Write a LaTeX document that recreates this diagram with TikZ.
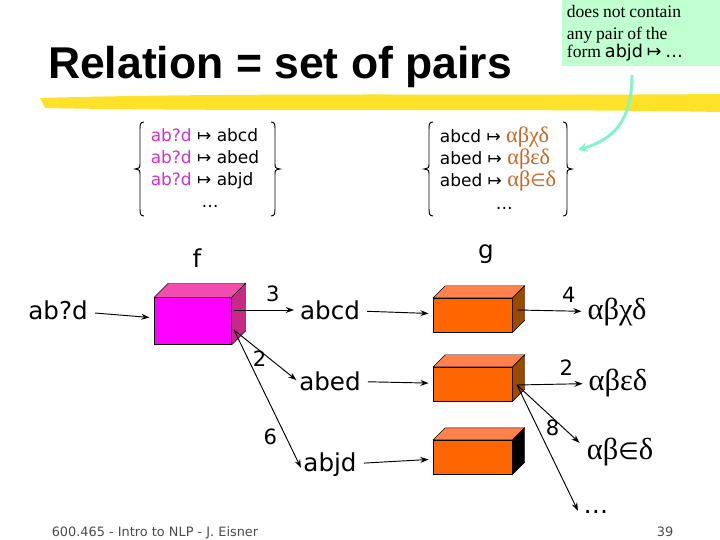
\documentclass[tikz,border=0pt]{standalone}
\usepackage{fontspec}
\setmainfont{DejaVu Sans}
\newfontfamily\titlefont{Liberation Sans}
\newfontfamily\greekfont{Liberation Serif}
\usetikzlibrary{positioning,calc,arrows.meta}
\definecolor{magtext}{HTML}{CC33CC}
\definecolor{orgtext}{HTML}{CC6622}
\definecolor{notegreen}{HTML}{BFFFD0}
\definecolor{notearrow}{HTML}{7FF5C8}
\newcommand\setgreekfont{\greekfont\fontsize{19}{19}\selectfont\color{orgtext}}
\newcommand\boxtop[4]{% node, depth, top colour, side colour
  \fill[#3,draw=black] (#1.north west) -- ++(#2,-#2) -- ($(#1.north east)+(#2,-#2)$) -- (#1.north east) -- cycle;
  \fill[#4,draw=black] (#1.north east) -- ++(#2,-#2) -- ($(#1.south east)+(#2,-#2)$) -- (#1.south east) -- cycle;}
% brace: x of tip, top y, bottom y, direction (1 left, -1 right)
\newcommand\setbrace[4]{%
  \draw[thick] ({#1+#4*9},#2) .. controls ({#1+#4*5},#2) and ({#1+#4*5},{#2+3}) .. ({#1+#4*5},{#2+8})
    -- ({#1+#4*5},{(#2+#3)/2-6}) .. controls ({#1+#4*5},{(#2+#3)/2-1}) .. (#1,{(#2+#3)/2})
    .. controls ({#1+#4*5},{(#2+#3)/2+1}) .. ({#1+#4*5},{(#2+#3)/2+6})
    -- ({#1+#4*5},{#3-8}) .. controls ({#1+#4*5},{#3-3}) and ({#1+#4*5},#3) .. ({#1+#4*9},#3);}
\begin{document}
\begin{tikzpicture}[
  x=0.03cm, y=-0.03cm,
  every node/.style={inner sep=1pt},
  word/.style={font=\fontsize{21}{22}\selectfont},
  greek/.style={font=\greekfont\fontsize{26}{28}\selectfont},
  weight/.style={font=\fontsize{18}{20}\selectfont},
  setrow/.style={font=\fontsize{14.5}{19}\selectfont},
  cubefront/.style={draw=black, minimum width=77*0.03cm, minimum height=47*0.03cm},
  orangebox/.style={draw=black, fill={rgb,255:red,255;green,102;blue,0}, minimum width=79*0.03cm, minimum height=34*0.03cm},
  flow/.style={-{Stealth[length=7pt,width=5pt]}, thick, shorten >=4pt, shorten <=5pt}
]
  \useasboundingbox (0,0) rectangle (720,540);
  % title and brush stroke
  \fill[yellow!80!orange, opacity=.85] (40,98) .. controls (250,92) and (500,96) .. (720,94) -- (720,112) .. controls (500,108) and (250,112) .. (45,108) -- cycle;
  \node (title) at (280,67) {\titlefont\bfseries\fontsize{38}{40}\selectfont Relation = set of pairs};
  % note
  \node (note) [fill=notegreen, text width=150*0.03cm, align=left, inner sep=4pt, anchor=north west] at (562,0)
    {\greekfont\fontsize{15}{19}\selectfont does not contain\\any pair of the\\form {\fontspec{DejaVu Sans}abjd ↦ …}};
  % sets
  \node (fset) [setrow, align=left] at (205,168) {{\color{magtext}ab?d} ↦ abcd\\{\color{magtext}ab?d} ↦ abed\\{\color{magtext}ab?d} ↦ abjd\\\hspace*{3em}…};
  \node (gset) [setrow, align=left] at (498,168) {abcd ↦ {\setgreekfont αβχδ}\\abed ↦ {\setgreekfont αβεδ}\\abed ↦ {\setgreekfont αβ{\fontspec{DejaVu Sans}\fontsize{15}{19}\selectfont∈}δ}\\\hspace*{3.3em}…};
  \setbrace{135}{122}{216}{1}
  \setbrace{280}{122}{216}{-1}
  \setbrace{424}{122}{216}{1}
  \setbrace{572}{122}{216}{-1}
  \draw[notearrow, line width=2.5pt, -{Stealth[length=8pt,width=8pt]}] (632,75) .. controls (632,125) and (610,140) .. (578,150);
  % machines
  \node (f) [word] at (197,258) {f};
  \node (g) [word] at (486,254) {g};
  \node (fm) [cubefront, fill={rgb,255:red,255;green,0;blue,255}] at (193,321) {};
  \boxtop{fm}{14}{magenta!70!white}{magenta!80!black}
  \node (gm1) [orangebox] at (473,315) {};
  \node (gm2) [orangebox] at (473,384) {};
  \node (gm3) [orangebox] at (473,457) {};
  \boxtop{gm1}{12}{orange!60!red!70!white}{orange!60!black}
  \boxtop{gm2}{12}{orange!60!red!70!white}{orange!60!black}
  \boxtop{gm3}{12}{orange!60!red!70!white}{black}
  % words
  \node (in) [word] at (58,310) {ab?d};
  \node (abcd) [word] at (330,310) {abcd};
  \node (abed) [word] at (330,381) {abed};
  \node (abjd) [word] at (330,465) {abjd};
  \node (o1) [greek] at (617,312) {αβχδ};
  \node (o2) [greek] at (618,383) {αβεδ};
  \node (o3) [greek] at (620,452) {αβ{\fontspec{DejaVu Sans}\fontsize{20}{22}\selectfont∈}δ};
  \node (more) [word] at (596,512) {…};
  \coordinate (fout) at (234,330);
  \coordinate (gout2) at (517,385);
  \coordinate (e2) at (300,383);
  \coordinate (e6) at (303,472);
  \coordinate (e8) at (583,446);
  \coordinate (emore) at (580,515);
  % arrows
  \draw[flow] (in) -- (fm);
  \draw[flow, shorten <=0pt] (234,310) -- (abcd) node[weight, pos=.6, above=6pt] {3};
  \draw[flow, shorten <=0pt] (fout) -- (e2) node[weight, pos=.55, left=2pt] {2};
  \draw[flow, shorten <=0pt] (fout) -- (e6) node[weight, pos=.75, left=6pt] {6};
  \draw[flow] (abcd) -- (gm1);
  \draw[flow] (abed) -- (gm2);
  \draw[flow] (abjd) -- (gm3);
  \draw[flow, shorten <=0pt] (517,310) -- (o1) node[weight, pos=.75, above=6pt] {4};
  \draw[flow, shorten <=0pt] (gout2) -- (o2) node[weight, pos=.7, above=6pt] {2};
  \draw[flow, shorten <=0pt] (gout2) -- (e8) node[weight, pos=.7, left=2pt] {8};
  \draw[flow, shorten <=0pt] (gout2) -- (emore);
  % footer
  \node (foot) [font=\fontsize{11}{12}\selectfont, text=black!70] at (155,533) {600.465 - Intro to NLP - J. Eisner};
  \node (page) [font=\fontsize{11}{12}\selectfont, text=black!70] at (665,532) {39};
\end{tikzpicture}
\end{document}
